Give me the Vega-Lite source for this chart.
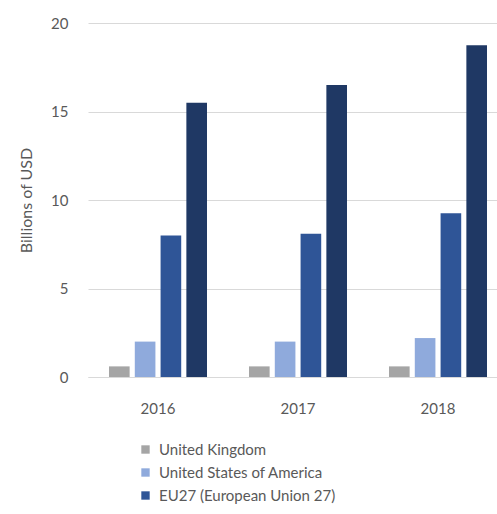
{
  "$schema": "https://vega.github.io/schema/vega-lite/v6.json",
  "width": 409,
  "height": 354,
  "autosize": {"type": "none"},
  "padding": {"left": 88, "top": 23, "right": 0, "bottom": 137},
  "background": "white",
  "config": {
    "view": {"stroke": null},
    "font": "Lato",
    "axis": {"labelColor": "#595959", "titleColor": "#595959", "labelFontSize": 14, "labelFont": "Lato", "titleFont": "Lato"}
  },
  "data": {
    "values": [
      {"year": "2016", "region": "United Kingdom", "value": 0.6},
      {"year": "2016", "region": "United States of America", "value": 2.0},
      {"year": "2016", "region": "EU27 (European Union 27)", "value": 8.0},
      {"year": "2016", "region": "World", "value": 15.5},
      {"year": "2017", "region": "United Kingdom", "value": 0.6},
      {"year": "2017", "region": "United States of America", "value": 2.0},
      {"year": "2017", "region": "EU27 (European Union 27)", "value": 8.1},
      {"year": "2017", "region": "World", "value": 16.5},
      {"year": "2018", "region": "United Kingdom", "value": 0.6},
      {"year": "2018", "region": "United States of America", "value": 2.2},
      {"year": "2018", "region": "EU27 (European Union 27)", "value": 9.25},
      {"year": "2018", "region": "World", "value": 18.75}
    ]
  },
  "mark": {"type": "bar"},
  "encoding": {
    "x": {
      "field": "year", "type": "nominal",
      "scale": {"range": [0, 420], "paddingInner": 0.3, "paddingOuter": 0.15},
      "axis": {"title": null, "labelAngle": 0, "ticks": false, "domainColor": "#D9D9D9", "labelPadding": 24, "labelFontSize": 15}
    },
    "xOffset": {
      "field": "region", "type": "nominal",
      "sort": ["United Kingdom", "United States of America", "EU27 (European Union 27)", "World"],
      "scale": {"paddingInner": 0.2, "paddingOuter": 0}
    },
    "y": {
      "field": "value", "type": "quantitative",
      "scale": {"domain": [0, 20]},
      "axis": {"title": "Billions of USD", "values": [0, 5, 10, 15, 20], "domain": false, "ticks": false, "gridColor": "#D9D9D9", "labelPadding": 20, "labelFontSize": 15, "titleFontSize": 16, "titleFontWeight": "normal", "titlePadding": 16}
    },
    "color": {
      "field": "region", "type": "nominal",
      "sort": ["United Kingdom", "United States of America", "EU27 (European Union 27)", "World"],
      "scale": {
        "domain": ["United Kingdom", "United States of America", "EU27 (European Union 27)", "World"],
        "range": ["#A5A5A5", "#8FAADC", "#2F5597", "#1F3864"]
      },
      "legend": {
        "title": null, "orient": "none", "legendX": 50, "legendY": 419,
        "values": ["United Kingdom", "United States of America", "EU27 (European Union 27)"],
        "symbolType": "square", "symbolSize": 70, "labelFontSize": 15, "labelColor": "#595959",
        "rowPadding": 7, "labelOffset": 6, "symbolStrokeWidth": 0, "labelLimit": 0
      }
    }
  }
}
